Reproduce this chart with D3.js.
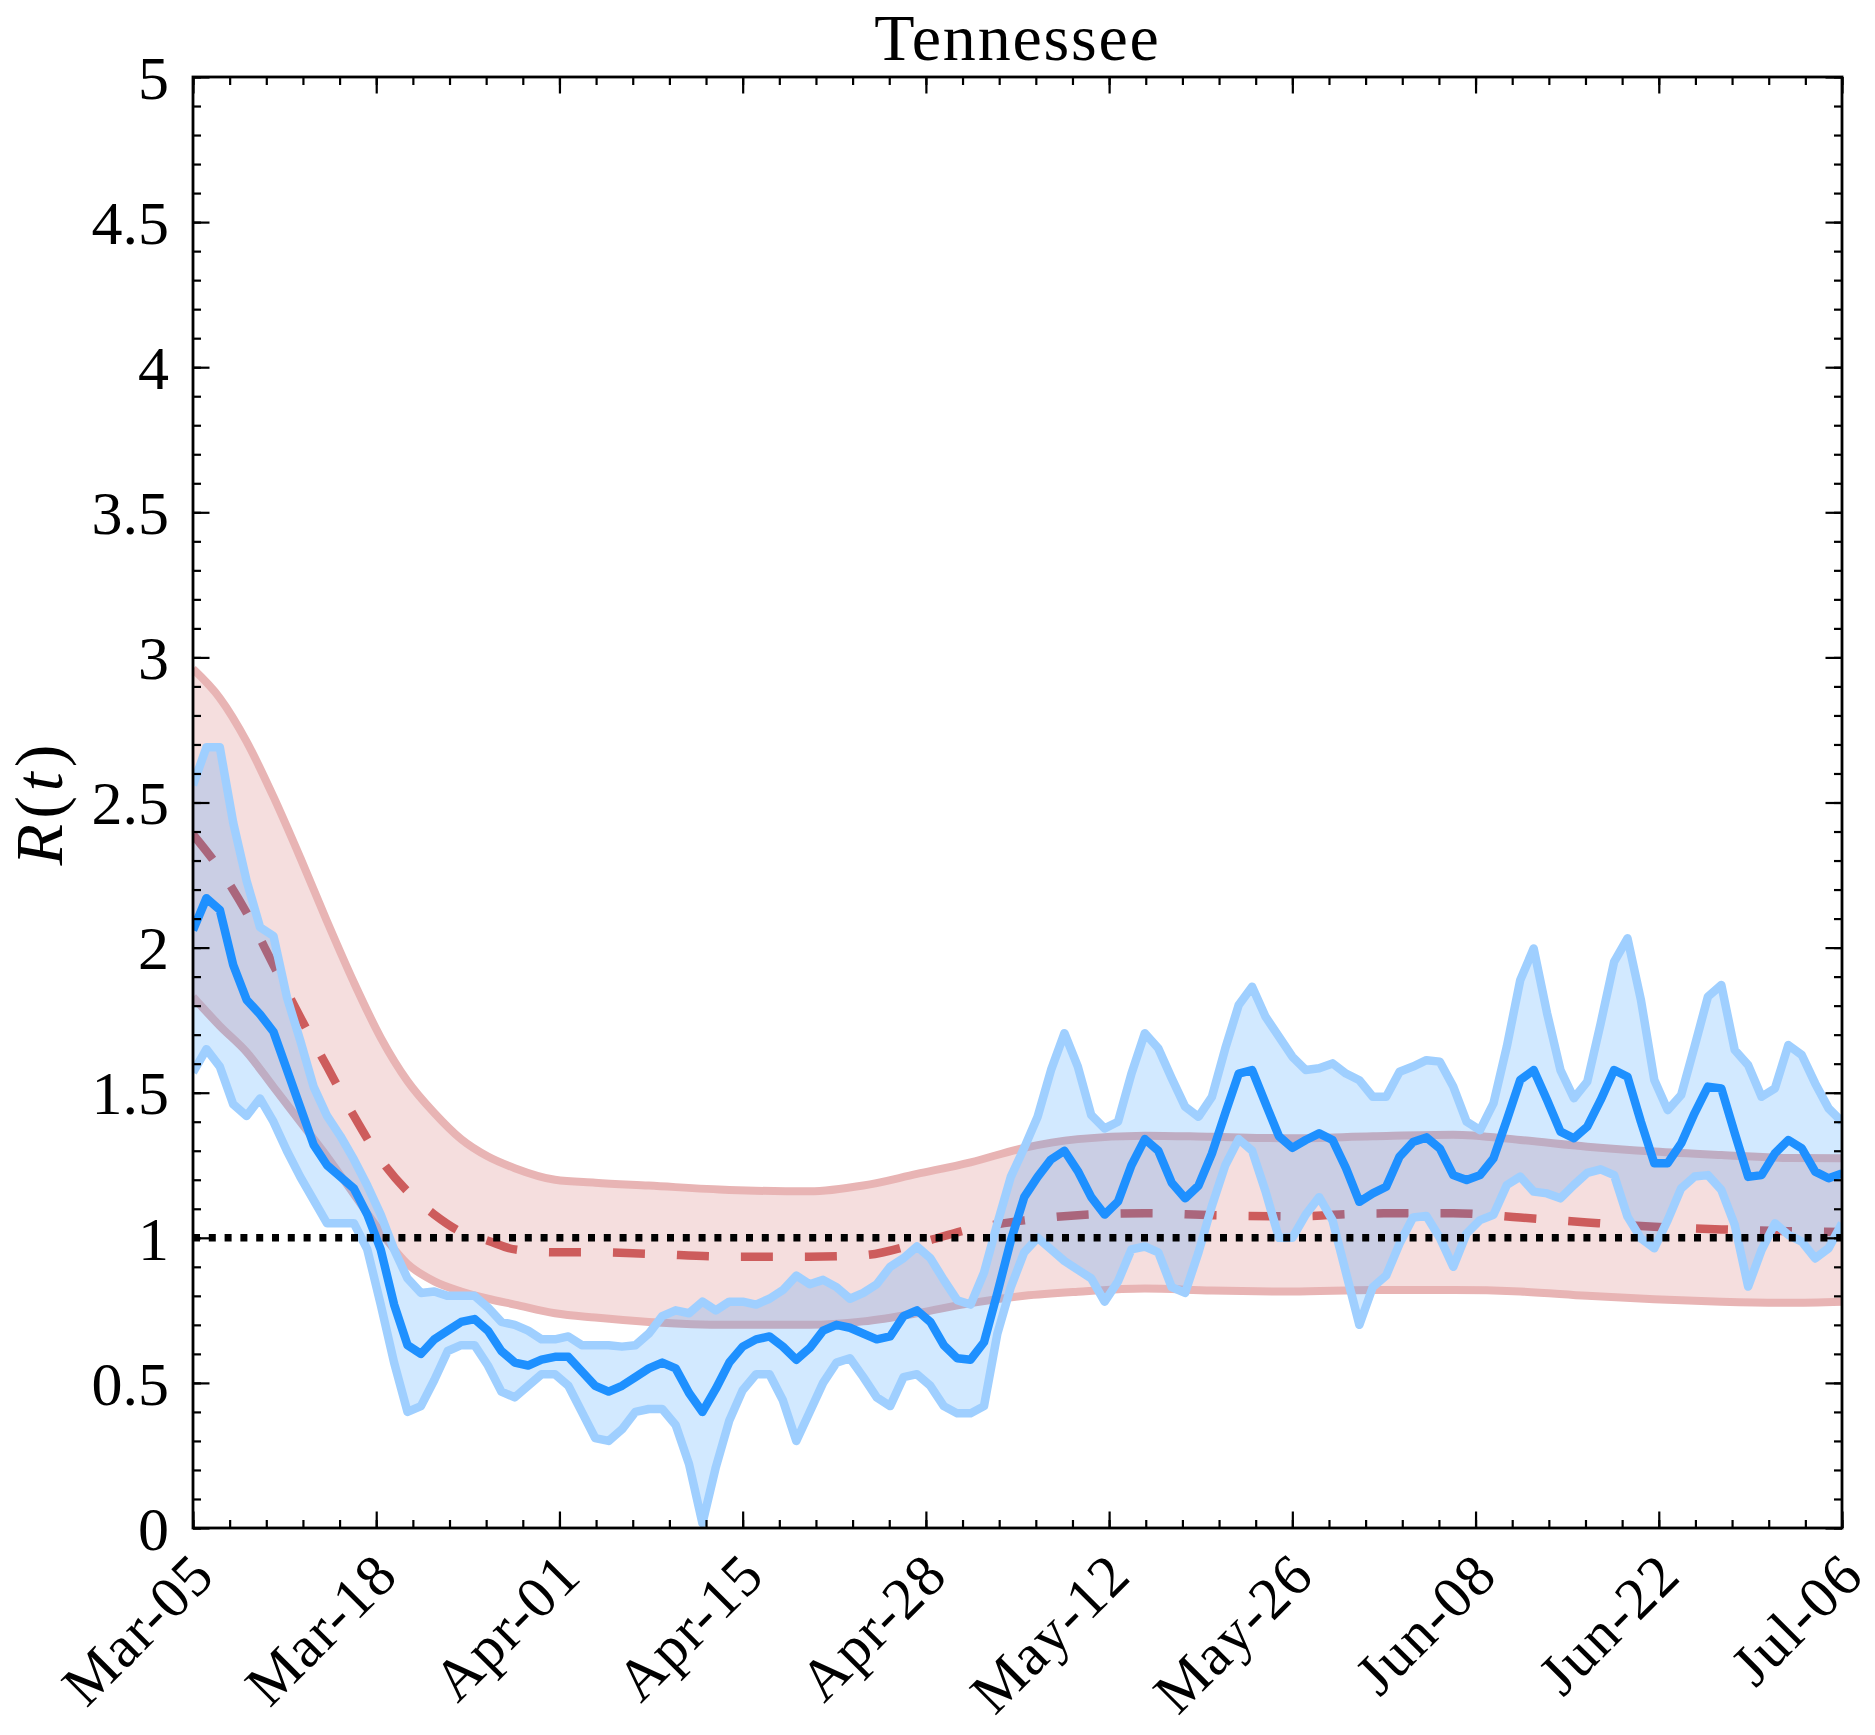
<!DOCTYPE html>
<html>
<head>
<meta charset="utf-8">
<script src="https://cdn.jsdelivr.net/npm/d3@7"></script>
<style>
  html, body { margin: 0; padding: 0; background: #fff; }
  svg { display: block; }
  text { font-family: "Liberation Serif", "Times New Roman", serif; fill: #000; }
</style>
</head>
<body>
<div id="chart"></div>
<script>
const W = 1875, H = 1735;
const M = { top: 77, right: 33, bottom: 207, left: 193 };

const title = "Tennessee";
const tickLabels = ["Mar-05", "Mar-18", "Apr-01", "Apr-15", "Apr-28",
                    "May-12", "May-26", "Jun-08", "Jun-22", "Jul-06"];
const nDays = 123; // Mar-05 .. Jul-06

// daily estimate (day 0 = Mar-05)
const rMean = [
  2.06, 2.17, 2.13, 1.94, 1.82, 1.77, 1.71, 1.58, 1.45, 1.32,
  1.25, 1.21, 1.17, 1.08, 0.96, 0.77, 0.63, 0.60, 0.65, 0.68,
  0.71, 0.72, 0.68, 0.61, 0.57, 0.56, 0.58, 0.59, 0.59, 0.54,
  0.49, 0.47, 0.49, 0.52, 0.55, 0.57, 0.55, 0.465, 0.40, 0.48,
  0.57, 0.625, 0.65, 0.66, 0.625, 0.58, 0.62, 0.68, 0.70, 0.69,
  0.67, 0.65, 0.66, 0.73, 0.75, 0.71, 0.63, 0.585, 0.58, 0.64,
  0.81, 0.99, 1.14, 1.21, 1.27, 1.30, 1.23, 1.14, 1.08, 1.125,
  1.25, 1.34, 1.30, 1.19, 1.136, 1.18, 1.29, 1.43, 1.566, 1.578,
  1.463, 1.35, 1.31, 1.337, 1.36, 1.337, 1.24, 1.124, 1.153, 1.176,
  1.28, 1.33, 1.346, 1.308, 1.216, 1.199, 1.216, 1.274, 1.406, 1.544,
  1.578, 1.475, 1.366, 1.343, 1.383, 1.475, 1.578, 1.555, 1.40, 1.257,
  1.257, 1.325, 1.429, 1.521, 1.515, 1.36, 1.21, 1.216, 1.291, 1.337,
  1.308, 1.228, 1.205, 1.222
];
const rUpper = [
  2.56, 2.69, 2.69, 2.43, 2.23, 2.07, 2.04, 1.83, 1.68, 1.52,
  1.42, 1.35, 1.27, 1.18, 1.08, 0.96, 0.86, 0.81, 0.815, 0.80,
  0.80, 0.80, 0.76, 0.71, 0.70, 0.68, 0.65, 0.65, 0.66, 0.63,
  0.63, 0.63, 0.625, 0.63, 0.67, 0.73, 0.75, 0.74, 0.78, 0.75,
  0.78, 0.78, 0.77, 0.79, 0.82, 0.87, 0.84, 0.855, 0.83, 0.79,
  0.81, 0.84, 0.90, 0.93, 0.97, 0.93, 0.855, 0.785, 0.77, 0.88,
  1.05, 1.21, 1.31, 1.417, 1.578, 1.705, 1.59, 1.423, 1.377, 1.40,
  1.566, 1.705, 1.653, 1.55, 1.452, 1.417, 1.486, 1.653, 1.802, 1.865,
  1.762, 1.693, 1.624, 1.578, 1.584, 1.601, 1.566, 1.543, 1.486, 1.486,
  1.572, 1.59, 1.612, 1.607, 1.521, 1.40, 1.371, 1.463, 1.659, 1.888,
  1.997, 1.774, 1.578, 1.481, 1.538, 1.739, 1.951, 2.032, 1.82, 1.544,
  1.44, 1.492, 1.659, 1.831, 1.871, 1.647, 1.595, 1.486, 1.515, 1.664,
  1.63, 1.532, 1.446, 1.40
];
const rLower = [
  1.57, 1.65, 1.59, 1.46, 1.42, 1.48, 1.40, 1.30, 1.21, 1.13,
  1.05, 1.05, 1.05, 0.96, 0.77, 0.57, 0.40, 0.42, 0.51, 0.61,
  0.63, 0.63, 0.56, 0.47, 0.45, 0.49, 0.53, 0.53, 0.49, 0.40,
  0.31, 0.30, 0.34, 0.40, 0.41, 0.41, 0.355, 0.22, 0.016, 0.21,
  0.37, 0.475, 0.53, 0.53, 0.44, 0.30, 0.40, 0.50, 0.57, 0.585,
  0.52, 0.45, 0.42, 0.52, 0.53, 0.49, 0.42, 0.395, 0.395, 0.42,
  0.67, 0.83, 0.95, 1.00, 0.96, 0.92, 0.89, 0.86, 0.78, 0.85,
  0.96, 0.97, 0.95, 0.83, 0.81, 0.95, 1.11, 1.25, 1.34, 1.30,
  1.16, 1.00, 1.00, 1.08, 1.14, 1.06, 0.88, 0.70, 0.83, 0.87,
  0.98, 1.07, 1.075, 1.00, 0.90, 1.015, 1.061, 1.079, 1.182, 1.211,
  1.159, 1.153, 1.136, 1.182, 1.224, 1.236, 1.216, 1.073, 0.998, 0.964,
  1.061, 1.17, 1.211, 1.216, 1.165, 1.044, 0.832, 0.958, 1.05, 1.01,
  0.987, 0.929, 0.964, 1.05
];

// smooth model curve, sampled at these days
const modelDays = [0, 2, 4, 6, 8, 10, 12, 14, 16, 18, 20, 22, 24, 27, 30, 34, 40,
                   46, 50, 54, 58, 62, 66, 71, 76, 82, 88, 94, 99, 104, 109, 114, 119, 123];
const modelMid = [2.39, 2.27, 2.12, 1.94, 1.76, 1.59, 1.42, 1.27, 1.16, 1.08, 1.02, 0.99,
                  0.96, 0.95, 0.95, 0.945, 0.935, 0.935, 0.94, 0.98, 1.03, 1.06, 1.078,
                  1.085, 1.078, 1.074, 1.084, 1.085, 1.07, 1.053, 1.038, 1.029, 1.023, 1.02];
const modelUpper = [2.96, 2.86, 2.71, 2.52, 2.31, 2.09, 1.88, 1.69, 1.54, 1.43, 1.34, 1.28,
                    1.24, 1.20, 1.19, 1.18, 1.165, 1.16, 1.18, 1.22, 1.26, 1.31, 1.34,
                    1.352, 1.348, 1.343, 1.35, 1.355, 1.337, 1.314, 1.297, 1.285, 1.275, 1.274];
const modelLower = [1.83, 1.73, 1.64, 1.52, 1.40, 1.28, 1.15, 1.02, 0.91, 0.85, 0.815, 0.79,
                    0.77, 0.74, 0.725, 0.71, 0.70, 0.70, 0.712, 0.74, 0.775, 0.80, 0.814,
                    0.825, 0.818, 0.815, 0.82, 0.82, 0.815, 0.80, 0.788, 0.78, 0.776, 0.78];

const yMajor = [0, 0.5, 1, 1.5, 2, 2.5, 3, 3.5, 4, 4.5, 5];

const BLUE = "#1e90ff", BLUE_LIGHT = "#9fcfff", RED = "#cd5c5c", RED_LIGHT = "#e8b4b4";

const svg = d3.select("#chart").append("svg")
  .attr("width", W).attr("height", H)
  .attr("viewBox", `0 0 ${W} ${H}`);

const x = d3.scaleLinear().domain([0, nDays]).range([M.left, W - M.right]);
const y = d3.scaleLinear().domain([0, 5]).range([H - M.bottom, M.top]);
const x0 = M.left, x1 = W - M.right, y0 = H - M.bottom, y1 = M.top;

svg.append("clipPath").attr("id", "plot-clip")
  .append("rect").attr("x", x0).attr("y", y1).attr("width", x1 - x0).attr("height", y0 - y1);

const plot = svg.append("g").attr("clip-path", "url(#plot-clip)");

// model band (red)
const model = modelDays.map((d, i) => ({ d, lo: modelLower[i], mid: modelMid[i], hi: modelUpper[i] }));
const curve = d3.curveMonotoneX;

plot.append("path")
  .attr("d", d3.area().curve(curve).x(p => x(p.d)).y0(p => y(p.lo)).y1(p => y(p.hi))(model))
  .attr("fill", RED).attr("fill-opacity", 0.2);

for (const key of ["hi", "lo"]) {
  plot.append("path")
    .attr("d", d3.line().curve(curve).x(p => x(p.d)).y(p => y(p[key]))(model))
    .attr("fill", "none").attr("stroke", RED_LIGHT).attr("stroke-width", 8);
}

plot.append("path")
  .attr("d", d3.line().curve(curve).x(p => x(p.d)).y(p => y(p.mid))(model))
  .attr("fill", "none").attr("stroke", RED).attr("stroke-width", 8.5)
  .attr("stroke-dasharray", "32,32");

// estimate band (blue)
const est = rMean.map((v, i) => ({ d: i, lo: rLower[i], mid: v, hi: rUpper[i] }));

plot.append("path")
  .attr("d", d3.area().x(p => x(p.d)).y0(p => y(p.lo)).y1(p => y(p.hi))(est))
  .attr("fill", BLUE).attr("fill-opacity", 0.2);

for (const key of ["hi", "lo"]) {
  plot.append("path")
    .attr("d", d3.line().x(p => x(p.d)).y(p => y(p[key]))(est))
    .attr("fill", "none").attr("stroke", BLUE_LIGHT).attr("stroke-width", 8.5)
    .attr("stroke-linejoin", "round");
}

plot.append("path")
  .attr("d", d3.line().x(p => x(p.d)).y(p => y(p.mid))(est))
  .attr("fill", "none").attr("stroke", BLUE).attr("stroke-width", 8.5)
  .attr("stroke-linejoin", "round");

// R = 1 reference
plot.append("line")
  .attr("x1", x0).attr("x2", x1).attr("y1", y(1)).attr("y2", y(1))
  .attr("stroke", "#000").attr("stroke-width", 7.5).attr("stroke-dasharray", "7,8.8");

// axes, ticks pointing inward on every side
const xMajorVals = tickLabels.map((_, i) => nDays * i / (tickLabels.length - 1));
const xMinorVals = d3.range(0, 5 * (tickLabels.length - 1) + 1).map(i => nDays * i / (5 * (tickLabels.length - 1)));
const yMinorVals = d3.range(0, 51).map(i => i / 10);

function styleAxis(g) {
  g.select(".domain").remove();
  g.selectAll(".tick line").attr("stroke", "#000").attr("stroke-width", 2.2);
  g.selectAll(".tick text").remove();
}

const axes = [
  [d3.axisBottom, x, `translate(0,${y0})`, xMajorVals, xMinorVals],
  [d3.axisTop, x, `translate(0,${y1})`, xMajorVals, xMinorVals],
  [d3.axisLeft, y, `translate(${x0},0)`, yMajor, yMinorVals],
  [d3.axisRight, y, `translate(${x1},0)`, yMajor, yMinorVals]
];
for (const [axisFn, scale, tr, major, minor] of axes) {
  svg.append("g").attr("transform", tr)
    .call(axisFn(scale).tickValues(minor).tickSize(-8)).call(styleAxis);
  svg.append("g").attr("transform", tr)
    .call(axisFn(scale).tickValues(major).tickSize(-16.5)).call(styleAxis);
}

svg.append("rect")
  .attr("x", x0).attr("y", y1).attr("width", x1 - x0).attr("height", y0 - y1)
  .attr("fill", "none").attr("stroke", "#000").attr("stroke-width", 2.8);

// tick labels
svg.append("g").selectAll("text")
  .data(yMajor)
  .join("text")
  .attr("x", x0 - 24)
  .attr("y", d => y(d))
  .attr("dy", "0.35em")
  .attr("text-anchor", "end")
  .style("font-size", "62px")
  .text(d => d3.format("")(d));

svg.append("g").selectAll("text")
  .data(tickLabels)
  .join("text")
  .attr("transform", (d, i) => `translate(${x(xMajorVals[i]) + 10},${y0 + 36}) rotate(-45)`)
  .attr("text-anchor", "end")
  .attr("dominant-baseline", "central")
  .style("font-size", "59px")
  .style("letter-spacing", "1.5px")
  .text(d => d);

// title and y label
svg.append("text")
  .attr("x", (x0 + x1) / 2)
  .attr("y", 60)
  .attr("text-anchor", "middle")
  .style("font-size", "66px")
  .style("letter-spacing", "1.8px")
  .text(title);

const yl = svg.append("text")
  .attr("transform", `translate(62,${(y0 + y1) / 2}) rotate(-90)`)
  .attr("text-anchor", "middle")
  .style("font-size", "68px")
  .style("letter-spacing", "5px");
yl.append("tspan").style("font-style", "italic").text("R");
yl.append("tspan").text("(");
yl.append("tspan").style("font-style", "italic").text("t");
yl.append("tspan").text(")");
</script>
</body>
</html>
